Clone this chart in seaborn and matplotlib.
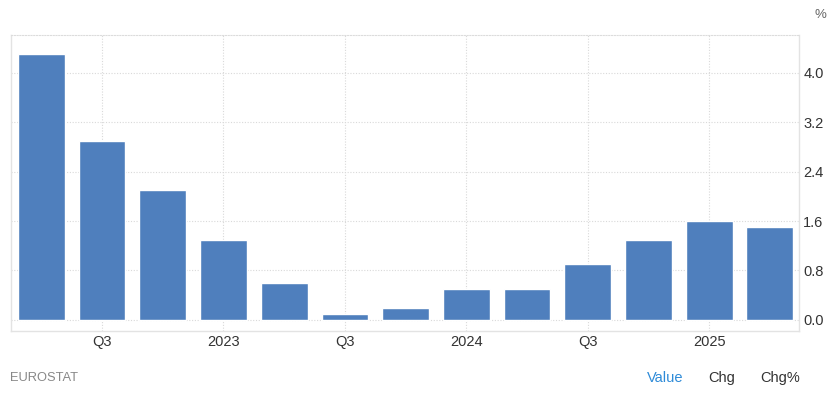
import matplotlib
matplotlib.use("Agg")
import matplotlib.pyplot as plt
import seaborn as sns
import pandas as pd

quarters = ["2022Q2", "2022Q3", "2022Q4", "2023Q1", "2023Q2", "2023Q3", "2023Q4",
            "2024Q1", "2024Q2", "2024Q3", "2024Q4", "2025Q1", "2025Q2"]
values = [4.3, 2.9, 2.1, 1.3, 0.6, 0.1, 0.2, 0.5, 0.5, 0.9, 1.3, 1.6, 1.5]
xtick_idx = [1, 3, 5, 7, 9, 11]
xtick_labels = ["Q3", "2023", "Q3", "2024", "Q3", "2025"]
ytick_vals = [0.0, 0.8, 1.6, 2.4, 3.2, 4.0]

sns.set_style("white")
plt.rcParams['font.family'] = ['Liberation Sans', 'DejaVu Sans']

df = pd.DataFrame({"quarter": quarters, "value": values})

fig = plt.figure(figsize=(8.34, 3.96), dpi=100)
ax = fig.add_axes([11/834, 65/396, 788/834, 296/396])

sns.barplot(data=df, x="quarter", y="value", color="#4f7fbd", saturation=1,
            width=0.77, ax=ax, zorder=3)

ax.set_xlim(-0.5, 12.48)
ax.set_ylim(-0.18, 4.61)
ax.set_xlabel("")
ax.set_ylabel("")

ax.set_xticks(xtick_idx)
ax.set_xticklabels(xtick_labels)
ax.set_yticks(ytick_vals)
ax.set_yticklabels([f"{v:.1f}" for v in ytick_vals])
ax.yaxis.tick_right()
ax.tick_params(axis="both", length=0, labelsize=10.5, colors="#333333")
ax.tick_params(axis="x", pad=3)
ax.tick_params(axis="y", pad=3)

ax.grid(True, axis="both", color="#d9d9d9", linestyle=(0, (1, 1.5)), linewidth=0.8, zorder=0)
ax.set_axisbelow(True)

for side in ["left", "bottom", "right"]:
    ax.spines[side].set_visible(True)
    ax.spines[side].set_color("#e3e3e3")
    ax.spines[side].set_linewidth(1)
ax.spines["top"].set_visible(True)
ax.spines["top"].set_color("#dcdcdc")
ax.spines["top"].set_linestyle((0, (1, 1.5)))
ax.spines["top"].set_linewidth(0.8)

fig.text(820/834, 1 - 15/396, "%", ha="center", va="center", fontsize=9.5, color="#666666")
fig.text(10/834, 1 - 378/396, "EUROSTAT", ha="left", va="center", fontsize=9.3, color="#888888")
fig.text(665/834, 1 - 378/396, "Value", ha="center", va="center", fontsize=10.5, color="#2e8bd8")
fig.text(722/834, 1 - 378/396, "Chg", ha="center", va="center", fontsize=10.5, color="#333333")
fig.text(780/834, 1 - 378/396, "Chg%", ha="center", va="center", fontsize=10.5, color="#333333")

fig.savefig("out.png", dpi=100)
